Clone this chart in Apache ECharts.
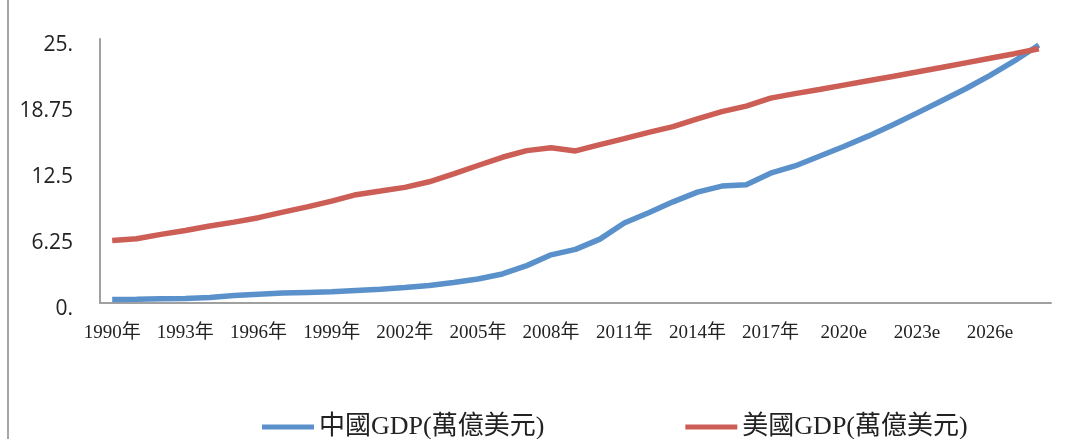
<!DOCTYPE html>
<html>
<head>
<meta charset="utf-8">
<script src="https://cdn.jsdelivr.net/npm/echarts@6/dist/echarts.min.js"></script>
<style>
html,body{margin:0;padding:0;background:#fff;}
#chart{width:1087px;height:439px;}
</style>
</head>
<body>
<div id="chart"></div>
<script>
const years = [];
for (let y = 1990; y <= 2028; y++) years.push(y);
const categories = years.map(y => y < 2020 ? y + '年' : y + 'e');

const chinaGDP = [0.34, 0.36, 0.40, 0.42, 0.52, 0.71, 0.84, 0.94, 1.00, 1.06, 1.19, 1.31, 1.46, 1.65, 1.95, 2.27, 2.75, 3.54, 4.56, 5.08,
  6.05, 7.58, 8.54, 9.58, 10.50, 11.07, 11.20, 12.29, 12.98, 13.90, 14.82, 15.80, 16.85, 17.98, 19.13, 20.29, 21.56, 22.92, 24.43];
const usGDP = [5.92, 6.08, 6.50, 6.86, 7.29, 7.66, 8.08, 8.60, 9.10, 9.65, 10.26, 10.60, 10.95, 11.48, 12.22, 13.02, 13.80, 14.43, 14.70, 14.40,
  15.00, 15.57, 16.16, 16.70, 17.44, 18.12, 18.64, 19.40, 19.83, 20.22, 20.63, 21.04, 21.45, 21.87, 22.30, 22.74, 23.17, 23.61, 24.08];

const yTickLabels = {0: '0.', 6.25: '6.25', 12.5: '12.5', 18.75: '18.75', 25: '25.'};
const seriesNames = ['中國GDP(萬億美元)', '美國GDP(萬億美元)'];

const chart = echarts.init(document.getElementById('chart'), null, {renderer: 'canvas'});
chart.setOption({
  animation: false,
  backgroundColor: '#ffffff',
  grid: {left: 100, right: 36, top: 39, bottom: 136, containLabel: false},
  legend: {
    data: seriesNames,
    left: 257, top: 409,
    icon: 'rect', itemWidth: 52, itemHeight: 5, itemGap: 141, itemStyle: {borderWidth: 0},
    textStyle: {fontFamily: '"Liberation Serif", "Noto Sans CJK TC"', fontSize: 26, color: '#222'}
  },
  xAxis: {
    type: 'category',
    data: categories,
    boundaryGap: true,
    axisLine: {lineStyle: {color: '#a0a0a0', width: 2}},
    axisTick: {show: false},
    axisLabel: {interval: 2, margin: 21, fontFamily: '"Liberation Serif", "Noto Sans CJK TC"', fontSize: 19, color: '#222'},
    splitLine: {show: false}
  },
  yAxis: {
    type: 'value', min: 0, max: 25, interval: 6.25,
    axisLine: {show: true, lineStyle: {color: '#a0a0a0', width: 2}},
    axisTick: {show: false},
    splitLine: {show: false},
    axisLabel: {
      margin: 27, color: '#222',
      formatter: v => '{t|' + (yTickLabels[v] !== undefined ? yTickLabels[v] : String(v)) + '}',
      rich: {t: {fontFamily: '"Open Sans", sans-serif', fontSize: 21, color: '#222', padding: [12, 0, 0, 0]}}
    }
  },
  series: [
    {name: seriesNames[0], type: 'line', data: chinaGDP, showSymbol: false, symbol: 'none',
     lineStyle: {color: '#5b91cb', width: 5.5}, itemStyle: {color: '#5b91cb'}},
    {name: seriesNames[1], type: 'line', data: usGDP, showSymbol: false, symbol: 'none',
     lineStyle: {color: '#cc5e56', width: 5.5}, itemStyle: {color: '#cc5e56'}}
  ],
  graphic: [
    {type: 'line', shape: {x1: 8, y1: 0, x2: 8, y2: 439}, style: {stroke: '#a6a6a6', lineWidth: 2}, silent: true}
  ]
});
</script>
</body>
</html>
